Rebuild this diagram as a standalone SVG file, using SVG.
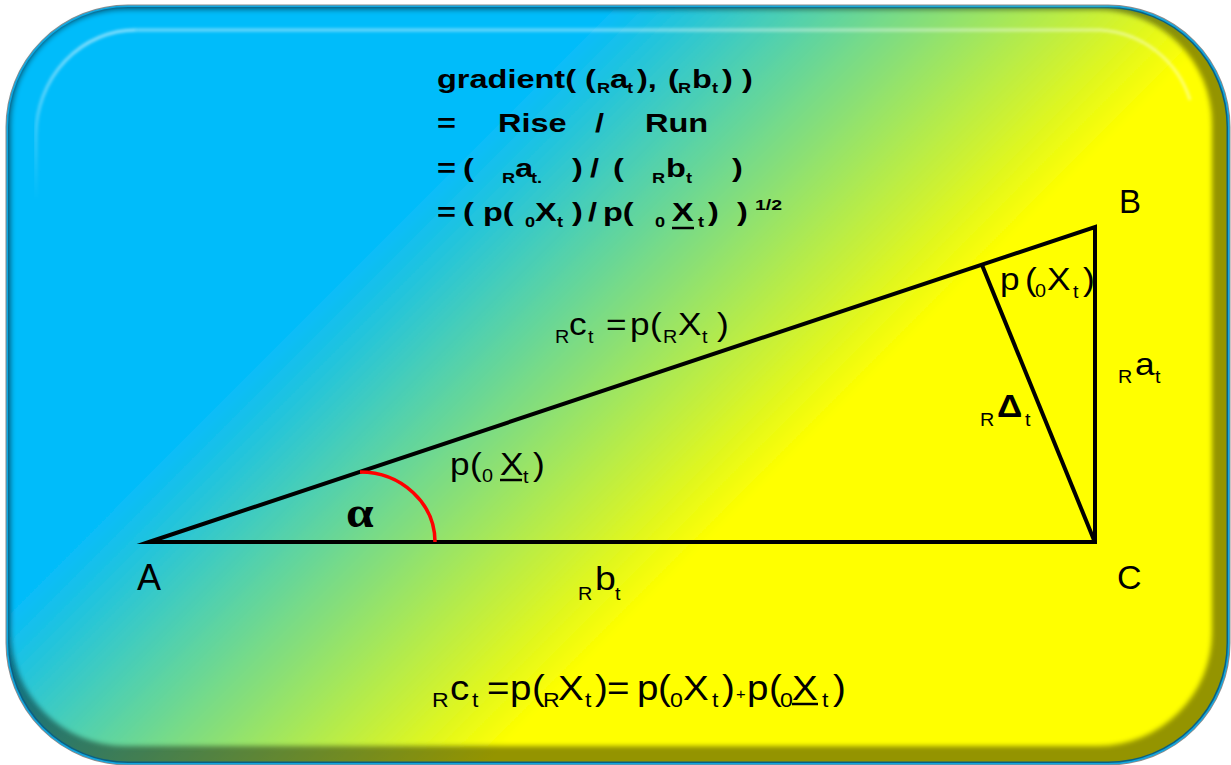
<svg xmlns="http://www.w3.org/2000/svg" width="1231" height="765" viewBox="0 0 1231 765">
<style>
.bt{font-family:"Liberation Sans",Arial,sans-serif;font-weight:bold;font-size:25px;fill:#000}
.bs{font-size:14px}
.lb{font-family:"Liberation Sans",Arial,sans-serif;font-size:32px;fill:#000}
.ls{font-size:18px}
.fs{font-size:21px}
.ln{fill:none;stroke:#000;stroke-width:4}
.ul{stroke:#000;stroke-width:2.5}
</style>
<defs>
<linearGradient id="g" gradientUnits="userSpaceOnUse" x1="310" y1="310" x2="625" y2="625">
<stop offset="0" stop-color="#05BCFA"/>
<stop offset="1" stop-color="#FFFF00"/>
</linearGradient>
<filter id="soft" x="-2%" y="-2%" width="104%" height="104%"><feGaussianBlur stdDeviation="2.5"/></filter>
<filter id="hl" x="-2%" y="-10%" width="104%" height="120%"><feGaussianBlur stdDeviation="1.8"/></filter>
<linearGradient id="hlg" gradientUnits="userSpaceOnUse" x1="0" y1="200" x2="0" y2="40">
<stop offset="0" stop-color="#fff" stop-opacity="0"/>
<stop offset="1" stop-color="#fff" stop-opacity="0.55"/>
</linearGradient>
</defs>

<g id="panel">
<rect x="8" y="7" width="1220" height="756" rx="120" fill="none" stroke="#8c8c8c" stroke-width="5"/>
<rect x="8" y="7" width="1220" height="756" rx="120" fill="url(#g)" stroke="#12A6DF" stroke-width="3"/>
<rect x="8" y="7" width="1220" height="756" rx="120" fill="#000" fill-opacity="0.42"/>
<rect x="11" y="10" width="1201" height="736" rx="114" fill="url(#g)" filter="url(#soft)"/>
<path d="M36,200 L36,135 A100,105 0 0 1 136,30" fill="none" stroke="url(#hlg)" stroke-width="3" filter="url(#hl)"/>
<path d="M136,30 L1100,30 A100,100 0 0 1 1190,100" fill="none" stroke="#fff" stroke-opacity="0.45" stroke-width="3" filter="url(#hl)"/>
</g>

<g id="connectors">
<polygon class="ln" points="149,542 1095,227 1095,542" stroke-miterlimit="10"/>
<line class="ln" x1="982" y1="265" x2="1094" y2="540"/>
<path d="M360,472 A75,70 0 0 1 435,542" fill="none" stroke="#FF0000" stroke-width="3.5"/>
</g>

<g id="gradient-text">
<text class="bt" transform="translate(437,88) scale(1.3,1)"><tspan x="0">gradient(</tspan><tspan x="113.8">(</tspan><tspan x="123.1" y="5" class="bs">R</tspan><tspan x="133.1" y="0">a</tspan><tspan x="146.2" y="5" class="bs">t</tspan><tspan x="153.8" y="0">),</tspan><tspan x="177.7">(</tspan><tspan x="185.4" y="5" class="bs">R</tspan><tspan x="196.2" y="0">b</tspan><tspan x="211.5" y="5" class="bs">t</tspan><tspan x="219.2" y="0">)</tspan><tspan x="234.6">)</tspan></text>
<text class="bt" transform="translate(437,132) scale(1.3,1)"><tspan x="0">=</tspan><tspan x="46.9">Rise</tspan><tspan x="121.5">/</tspan><tspan x="160">Run</tspan></text>
<text class="bt" transform="translate(437,177) scale(1.3,1)"><tspan x="0">=</tspan><tspan x="20">(</tspan><tspan x="50" y="6" class="bs">R</tspan><tspan x="60" y="0">a</tspan><tspan x="72.3" y="6" class="bs">t.</tspan><tspan x="103.8" y="0">)</tspan><tspan x="117.7">/</tspan><tspan x="135.4">(</tspan><tspan x="165.4" y="6" class="bs">R</tspan><tspan x="176.2" y="0">b</tspan><tspan x="191.5" y="6" class="bs">t</tspan><tspan x="226.9" y="0">)</tspan></text>
<text class="bt" transform="translate(437,221) scale(1.3,1)"><tspan x="0">=</tspan><tspan x="20">(</tspan><tspan x="35.4">p(</tspan><tspan x="67.7" y="6" class="bs">0</tspan><tspan x="75.4" y="0">X</tspan><tspan x="92.3" y="6" class="bs">t</tspan><tspan x="103.8" y="0">)</tspan><tspan x="116.2">/</tspan><tspan x="127.7">p(</tspan><tspan x="167.7" y="6" class="bs">0</tspan><tspan x="180.8" y="0">X</tspan><tspan x="200.8" y="6" class="bs">t</tspan><tspan x="208.5" y="0">)</tspan><tspan x="230.8">)</tspan><tspan x="244.6" y="-11" style="font-size:15px">1/2</tspan></text>
<line class="ul" x1="672" y1="228" x2="694" y2="228"/>
</g>

<g id="vertex-A"><text class="lb" x="137" y="590" style="font-size:36px">A</text></g>
<g id="vertex-B"><text class="lb" x="1119" y="213" style="font-size:33px">B</text></g>
<g id="vertex-C"><text class="lb" x="1117" y="589" style="font-size:34px">C</text></g>

<g id="label-alpha"><text transform="translate(346,527) scale(1.1,1)" style="font-family:'Liberation Serif','Times New Roman',serif;font-size:45px;font-weight:bold;fill:#000">α</text></g>

<g id="label-hyp">
<text class="lb" transform="translate(555,335) scale(1.1,1)"><tspan x="0" y="8" class="ls">R</tspan><tspan x="12.7" y="0">c</tspan><tspan x="30" y="8" class="ls">t</tspan><tspan x="46.4" y="0">=</tspan><tspan x="68.2">p</tspan><tspan x="86.4">(</tspan><tspan x="98.2" y="8" class="ls">R</tspan><tspan x="111.8" y="0">X</tspan><tspan x="133.6" y="8" class="ls">t</tspan><tspan x="147.3" y="0">)</tspan></text>
</g>

<g id="label-p0Xu">
<text class="lb" transform="translate(450,475) scale(1.1,1)"><tspan x="0">p</tspan><tspan x="18.2">(</tspan><tspan x="29.1" y="7" class="ls">0</tspan><tspan x="45.5" y="0">X</tspan><tspan x="66.4" y="8" class="ls">t</tspan><tspan x="75.5" y="0">)</tspan></text>
<line class="ul" x1="500" y1="480" x2="522" y2="480"/>
</g>

<g id="label-p0X">
<text class="lb" transform="translate(1000,290) scale(1.1,1)"><tspan x="0">p</tspan><tspan x="22.7">(</tspan><tspan x="31.8" y="7" class="ls">0</tspan><tspan x="42.7" y="0">X</tspan><tspan x="66.4" y="8" class="ls">t</tspan><tspan x="75.5" y="0">)</tspan></text>
</g>

<g id="label-Delta">
<text class="lb" transform="translate(980,417) scale(1.1,1)"><tspan x="0" y="9" class="ls">R</tspan><tspan x="15.5" y="0" style="font-weight:bold">Δ</tspan><tspan x="40.9" y="9" class="ls">t</tspan></text>
</g>

<g id="label-a">
<text class="lb" transform="translate(1118,375) scale(1.1,1)"><tspan x="0" y="8" class="ls">R</tspan><tspan x="15.5" y="0">a</tspan><tspan x="33.6" y="8" class="ls">t</tspan></text>
</g>

<g id="label-b">
<text class="lb" transform="translate(578,590) scale(1.1,1)" style="font-size:34px"><tspan x="0" y="10" class="ls">R</tspan><tspan x="15.5" y="0">b</tspan><tspan x="33.6" y="10" class="ls">t</tspan></text>
</g>

<g id="formula">
<text class="lb" transform="translate(432,700) scale(1.1,1)" style="font-size:35px"><tspan x="0" y="7" class="fs">R</tspan><tspan x="16.4" y="0">c</tspan><tspan x="36.4" y="7" class="fs">t</tspan><tspan x="50" y="0">=</tspan><tspan x="70.9">p</tspan><tspan x="90.9">(</tspan><tspan x="100.9" y="7" class="fs">R</tspan><tspan x="114.5" y="0">X</tspan><tspan x="139.1" y="7" class="fs">t</tspan><tspan x="148.2" y="0">)</tspan><tspan x="159.1">=</tspan><tspan x="186.4">p</tspan><tspan x="205.5">(</tspan><tspan x="216.4" y="7" class="fs">0</tspan><tspan x="228.2" y="0">X</tspan><tspan x="254.5" y="7" class="fs">t</tspan><tspan x="263.6" y="0">)</tspan><tspan x="276.4" y="-1" style="font-size:15px">+</tspan><tspan x="286.4" y="0">p</tspan><tspan x="306.4">(</tspan><tspan x="316.4" y="7" class="fs">0</tspan><tspan x="327.3" y="0">X</tspan><tspan x="354.5" y="7" class="fs">t</tspan><tspan x="364.5" y="0">)</tspan></text>
<line class="ul" x1="792" y1="704" x2="818" y2="704"/>
</g>
</svg>
